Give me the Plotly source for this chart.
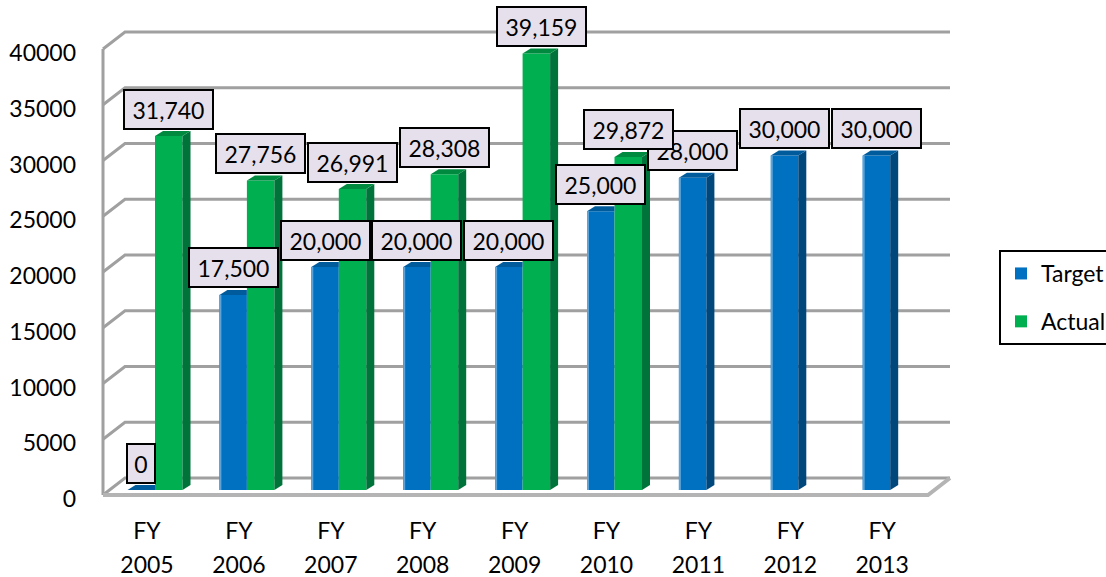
import plotly.graph_objects as go

years = ["2005", "2006", "2007", "2008", "2009", "2010", "2011", "2012", "2013"]
target = [0, 17500, 20000, 20000, 20000, 25000, 28000, 30000, 30000]
actual = [31740, 27756, 26991, 28308, 39159, 29872, None, None, None]
y_ticks = [0, 5000, 10000, 15000, 20000, 25000, 30000, 35000, 40000]

W, H = 1106, 577
PX_X = 91.9            # pixels per category
PX_Y = 0.01115         # pixels per value unit
X0_PX, Y0_PX = 147, 495   # pixel of category 0 / value 0
LEFT, RIGHT, TOP, BOTTOM = 100, 954, 28, 500

dxu = lambda p: p / PX_X
dyu = lambda p: p / PX_Y

x_range = [dxu(LEFT - X0_PX), dxu(RIGHT - X0_PX)]
y_range = [dyu(Y0_PX - BOTTOM), dyu(Y0_PX - TOP)]
label_y_range = [y_range[0] + dyu(4), y_range[1] + dyu(4)]
dom_x = [LEFT / W, RIGHT / W]
dom_y = [1 - BOTTOM / H, 1 - TOP / H]

BAR_W = dxu(27.5)
SHIFT = dxu(8)
LIFT = dyu(5)
SIDE_X, SIDE_Y = dxu(8), dyu(5)
WALL_X, WALL_Y = dxu(22), dyu(17)
AXIS_L = dxu(103 - X0_PX)
FLOOR_R = dxu(928 - X0_PX)

BLUE, BLUE_SIDE, BLUE_TOP, BLUE_EDGE = "#0070c0", "#00477c", "#005b9d", "#5ba3d9"
GREEN, GREEN_SIDE, GREEN_TOP, GREEN_EDGE = "#00b050", "#00733a", "#008a40", "#3fc27a"
GRID = "#a0a0a0"
FONT = "Lato"
FS = 23

shapes = []


def poly(pts, color, layer="above"):
    path = "M " + " L ".join(f"{x},{y}" for x, y in pts) + " Z"
    shapes.append(dict(type="path", path=path, fillcolor=color, line=dict(width=0),
                       xref="x", yref="y", layer=layer))


def wall_line(pts, color=GRID, width=3):
    path = "M " + " L ".join(f"{x},{y}" for x, y in pts)
    shapes.append(dict(type="path", path=path, line=dict(color=color, width=width),
                       xref="x", yref="y", layer="below"))


# walls and gridlines
for v in y_ticks:
    wall_line([(AXIS_L, v), (AXIS_L + WALL_X, v + WALL_Y), (FLOOR_R + WALL_X, v + WALL_Y)])
wall_line([(AXIS_L, 0), (AXIS_L, y_ticks[-1])])
wall_line([(AXIS_L, 0), (FLOOR_R, 0), (FLOOR_R + WALL_X, WALL_Y)], color="#b4b4b4", width=4)

# 3-D faces of the bars, derived from the values
for i, (t, a) in enumerate(zip(target, actual)):
    bx0, bx1 = i + SHIFT - BAR_W, i + SHIFT
    ttop = t + LIFT
    if a is None:
        poly([(bx1, LIFT), (bx1 + SIDE_X, LIFT + SIDE_Y), (bx1 + SIDE_X, ttop + SIDE_Y), (bx1, ttop)], BLUE_SIDE)
        poly([(bx0, ttop), (bx1, ttop), (bx1 + SIDE_X, ttop + SIDE_Y), (bx0 + SIDE_X, ttop + SIDE_Y)], BLUE_TOP)
    else:
        poly([(bx0, ttop), (bx1, ttop), (bx1, ttop + SIDE_Y), (bx0 + SIDE_X, ttop + SIDE_Y)], BLUE_TOP)
        gx0, gx1 = bx1, bx1 + BAR_W
        atop = a + LIFT
        poly([(gx1, LIFT), (gx1 + SIDE_X, LIFT + SIDE_Y), (gx1 + SIDE_X, atop + SIDE_Y), (gx1, atop)], GREEN_SIDE)
        poly([(gx0, atop), (gx1, atop), (gx1 + SIDE_X, atop + SIDE_Y), (gx0 + SIDE_X, atop + SIDE_Y)], GREEN_TOP)
    if t > 0:
        poly([(bx0, LIFT), (bx0 + dxu(2), LIFT), (bx0 + dxu(2), ttop), (bx0, ttop)], BLUE_EDGE)

pos = list(range(len(years)))
fig = go.Figure()
fig.add_bar(x=pos, y=target, base=LIFT, width=BAR_W, offset=SHIFT - BAR_W, name="Target",
            marker=dict(color=BLUE, line=dict(width=0)), legendgroup="t", hoverinfo="skip")
fig.add_bar(x=pos, y=actual, base=LIFT, width=BAR_W, offset=SHIFT, name="Actual",
            marker=dict(color=GREEN, line=dict(width=0)), legendgroup="a", hoverinfo="skip")
fig.add_scatter(x=[None], y=[None], xaxis="x2", showlegend=False, hoverinfo="skip")
fig.add_scatter(x=[None], y=[None], yaxis="y2", showlegend=False, hoverinfo="skip")

# data labels
annotations = []


def label(x, y, value, xshift=0):
    txt = f"{value:,}"
    annotations.append(dict(x=x, y=y + LIFT, xref="x", yref="y", text=txt, showarrow=False,
                            xshift=xshift, yshift=27, xanchor="center", yanchor="middle",
                            font=dict(family=FONT, size=FS, color="#000000"),
                            bgcolor="#e6e0ec", bordercolor="#000000", borderwidth=2, borderpad=0,
                            width=26 if value == 0 else 87, height=37, align="center"))


for i, t in enumerate(target):
    label(i + SHIFT - BAR_W / 2, t, t)
for i, a in enumerate(actual):
    if a is not None:
        label(i + SHIFT + BAR_W / 2, a, a, xshift=5 if a == 39159 else 0)

axis_font = dict(family=FONT, size=FS, color="#000000")
fig.update_layout(
    width=W, height=H, autosize=False,
    margin=dict(l=0, r=0, t=0, b=0, autoexpand=False),
    paper_bgcolor="white", plot_bgcolor="rgba(0,0,0,0)",
    barmode="overlay", shapes=shapes, annotations=annotations,
    showlegend=True,
    legend=dict(x=999 / W, y=1 - 250 / H, xanchor="left", yanchor="top",
                bordercolor="#000000", borderwidth=2, bgcolor="white",
                font=axis_font, tracegroupgap=15, traceorder="grouped"),
    xaxis=dict(domain=dom_x, range=x_range, tickmode="array", tickvals=pos,
               ticktext=["FY"] * len(years), showgrid=False, zeroline=False, showline=False,
               ticks="", tickfont=axis_font, ticklabelstandoff=15, anchor="y", tickangle=0),
    xaxis2=dict(domain=dom_x, range=x_range, overlaying="x", side="bottom", anchor="y",
                tickmode="array", tickvals=pos, ticktext=years, showgrid=False, zeroline=False,
                showline=False, ticks="", tickfont=axis_font, ticklabelstandoff=49, tickangle=0),
    yaxis=dict(domain=dom_y, range=y_range, showticklabels=False, showgrid=False, zeroline=False,
               showline=False, ticks=""),
    yaxis2=dict(domain=dom_y, range=label_y_range, overlaying="y", side="left", anchor="x",
                tickmode="array", tickvals=y_ticks, ticktext=[str(v) for v in y_ticks],
                showgrid=False, zeroline=False, showline=False, ticks="", tickfont=axis_font,
                ticklabelstandoff=23),
)

fig.write_html("out.html", config={"displayModeBar": False},
               post_script="document.body.style.margin='0';document.body.style.overflow='hidden';")
